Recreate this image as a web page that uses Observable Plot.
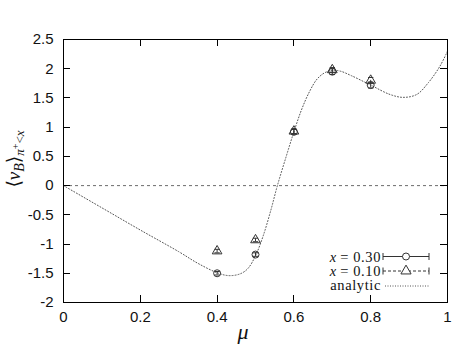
<!DOCTYPE html>
<html><head><meta charset="utf-8">
<script src="https://cdn.jsdelivr.net/npm/d3@7"></script>
<script src="https://cdn.jsdelivr.net/npm/@observablehq/plot@0.6"></script>
<style>
body{margin:0;background:#fff;}
#chart svg{display:block;}
</style></head>
<body><div id="chart"></div>
<script>
// Lattice points
const mu = [0.4, 0.5, 0.6, 0.7, 0.8];
const x030 = [-1.5, -1.18, 0.92, 1.95, 1.72];
const err030 = [0.03, 0.03, 0.04, 0.05, 0.05];
const x010 = [-1.12, -0.93, 0.93, 1.98, 1.80];
const err010 = [0.03, 0.03, 0.04, 0.04, 0.05];
// Analytic curve
const analyticMu = [0, 0.1, 0.2, 0.3, 0.35, 0.4, 0.43, 0.46, 0.48, 0.5, 0.52, 0.54, 0.557, 0.58, 0.6, 0.62, 0.64, 0.66, 0.68, 0.7, 0.72, 0.75, 0.8, 0.85, 0.885, 0.92, 0.95, 0.98, 1.0];
const analyticV = [0, -0.38, -0.76, -1.13, -1.33, -1.49, -1.54, -1.51, -1.42, -1.2, -0.86, -0.42, 0, 0.5, 0.92, 1.3, 1.6, 1.82, 1.93, 1.97, 1.96, 1.88, 1.72, 1.56, 1.51, 1.56, 1.76, 2.04, 2.3];
const xTicks = [0, 0.2, 0.4, 0.6, 0.8, 1];
const yTicks = [-2, -1.5, -1, -0.5, 0, 0.5, 1, 1.5, 2, 2.5];
const legendLabels = ["0.30", "0.10", "analytic"];

const pts030 = mu.map((m, i) => ({mu: m, v: x030[i], e: err030[i]}));
const pts010 = mu.map((m, i) => ({mu: m, v: x010[i], e: err010[i]}));
const curve = analyticMu.map((m, i) => ({mu: m, v: analyticV[i]}));
const innerX = xTicks.slice(1, -1);
const innerY = yTicks.slice(1, -1);

const capSymbol = {draw(ctx, size) { const r = Math.sqrt(size) * 0.5; ctx.moveTo(-r, 0); ctx.lineTo(r, 0); }};
const mk = "#333";
const fmt = d => String(d);

const W = 472, H = 354, ML = 63, MR = 25, MT = 39, MB = 52, TL = 7;
const chart = Plot.plot({
  width: W, height: H,
  marginLeft: ML, marginRight: MR, marginTop: MT, marginBottom: MB,
  style: {fontFamily: "'Liberation Sans', Arial, sans-serif", fontSize: "15px", color: "#111", background: "#fff"},
  x: {domain: [0, 1]},
  y: {domain: [-2, 2.5]},
  marks: [
    Plot.ruleY([0], {stroke: "#444", strokeWidth: 0.8, strokeDasharray: "3,3"}),
    Plot.line(curve, {x: "mu", y: "v", curve: "catmull-rom", stroke: "#555", strokeWidth: 1, strokeDasharray: "1,2"}),
    // error bars
    Plot.ruleX(pts030, {x: "mu", y1: d => d.v - d.e, y2: d => d.v + d.e, stroke: mk, strokeWidth: 1}),
    Plot.dot(pts030, {x: "mu", y: d => d.v - d.e, symbol: capSymbol, r: 3, stroke: mk, strokeWidth: 1}),
    Plot.dot(pts030, {x: "mu", y: d => d.v + d.e, symbol: capSymbol, r: 3, stroke: mk, strokeWidth: 1}),
    Plot.ruleX(pts010, {x: "mu", y1: d => d.v - d.e, y2: d => d.v + d.e, stroke: mk, strokeWidth: 1, strokeDasharray: "3,2"}),
    Plot.dot(pts010, {x: "mu", y: d => d.v - d.e, symbol: capSymbol, r: 3, stroke: mk, strokeWidth: 1}),
    Plot.dot(pts010, {x: "mu", y: d => d.v + d.e, symbol: capSymbol, r: 3, stroke: mk, strokeWidth: 1}),
    Plot.dot(pts030, {x: "mu", y: "v", symbol: "circle", r: 3.5, stroke: mk, strokeWidth: 1, fill: "none"}),
    Plot.dot(pts010, {x: "mu", y: "v", symbol: "triangle", r: 3.6, stroke: mk, strokeWidth: 1, fill: "none"}),
    Plot.frame({stroke: "#000", strokeWidth: 1}),
    Plot.axisX(xTicks, {anchor: "bottom", tickSize: 0, tickPadding: 9, tickFormat: fmt, label: null, fill: "#111"}),
    Plot.axisY(yTicks, {anchor: "left", tickSize: 0, tickPadding: 10, tickFormat: fmt, label: null, fill: "#111"})
  ]
});
document.getElementById("chart").appendChild(chart);

const svg = d3.select(chart);
// inward ticks on all four sides, placed through Plot's own scales
const sx = chart.scale("x"), sy = chart.scale("y");
const fTop = MT, fBottom = H - MB, fLeft = ML, fRight = W - MR;
const tg = svg.append("g").attr("stroke", "#000").attr("stroke-width", 1);
innerX.forEach(v => {
  const px = Math.round(sx.apply(v)) + 0.5;
  tg.append("line").attr("x1", px).attr("x2", px).attr("y1", fBottom).attr("y2", fBottom - TL);
  tg.append("line").attr("x1", px).attr("x2", px).attr("y1", fTop).attr("y2", fTop + TL);
});
innerY.forEach(v => {
  const py = Math.round(sy.apply(v)) + 0.5;
  tg.append("line").attr("x1", fLeft).attr("x2", fLeft + TL).attr("y1", py).attr("y2", py);
  tg.append("line").attr("x1", fRight).attr("x2", fRight - TL).attr("y1", py).attr("y2", py);
});

const serif = "'Liberation Serif', 'DejaVu Serif', serif";
// x label
svg.append("text").attr("x", 243).attr("y", 339).attr("text-anchor", "middle")
  .attr("font-family", serif).attr("font-style", "italic").attr("font-size", 22).attr("fill", "#111").text("μ");
// y label
const yl = svg.append("text").attr("transform", "translate(20,159) rotate(-90)").attr("text-anchor", "middle")
  .attr("font-family", serif).attr("font-size", 19).attr("fill", "#111");
yl.append("tspan").text("⟨");
yl.append("tspan").attr("font-style", "italic").text("ν");
yl.append("tspan").attr("font-style", "italic").attr("font-size", 14).attr("dy", 4).text("B");
yl.append("tspan").attr("dy", -4).text("⟩");
yl.append("tspan").attr("font-style", "italic").attr("font-size", 13).attr("dy", 4).text("π");
yl.append("tspan").attr("font-size", 10).attr("dy", -5).text("+");
yl.append("tspan").attr("font-size", 13).attr("dy", 5).text("<");
yl.append("tspan").attr("font-style", "italic").attr("font-size", 13).text("x");

// legend
const tx = fRight - 66, s1 = fRight - 64, s2 = fRight - 18, rows = [256.5, 271, 286];
const lg = svg.append("g").attr("font-family", serif).attr("font-size", 14.5).attr("fill", "#111");
legendLabels.forEach((lab, i) => {
  const y = rows[i];
  if (i < 2) {
    const t = lg.append("text").attr("x", tx).attr("y", y + 5).attr("text-anchor", "end").attr("letter-spacing", 0.6).text("= " + lab);
    const w = t.node().getComputedTextLength();
    lg.append("text").attr("x", tx - w - 4).attr("y", y + 5).attr("text-anchor", "end").attr("font-style", "italic").text("x");
    lg.append("line").attr("x1", s1).attr("x2", s2).attr("y1", y).attr("y2", y).attr("stroke", mk)
      .attr("stroke-dasharray", i === 1 ? "3,2" : null);
    [s1, s2].forEach(xx => lg.append("line").attr("x1", xx).attr("x2", xx).attr("y1", y - 3.5).attr("y2", y + 3.5).attr("stroke", mk));
    const cx = (s1 + s2) / 2;
    if (i === 0) lg.append("circle").attr("cx", cx).attr("cy", y).attr("r", 3.5).attr("fill", "#fff").attr("stroke", mk);
    else lg.append("path").attr("d", d3.symbol(d3.symbolTriangle, 45)()).attr("transform", `translate(${cx},${y})`).attr("fill", "#fff").attr("stroke", mk);
  } else {
    lg.append("text").attr("x", tx).attr("y", y + 4).attr("text-anchor", "end").attr("letter-spacing", 0.6).text(lab);
    lg.append("line").attr("x1", s1 + 2).attr("x2", s2).attr("y1", y).attr("y2", y).attr("stroke", "#555").attr("stroke-dasharray", "1,1.5");
  }
});
</script></body></html>
